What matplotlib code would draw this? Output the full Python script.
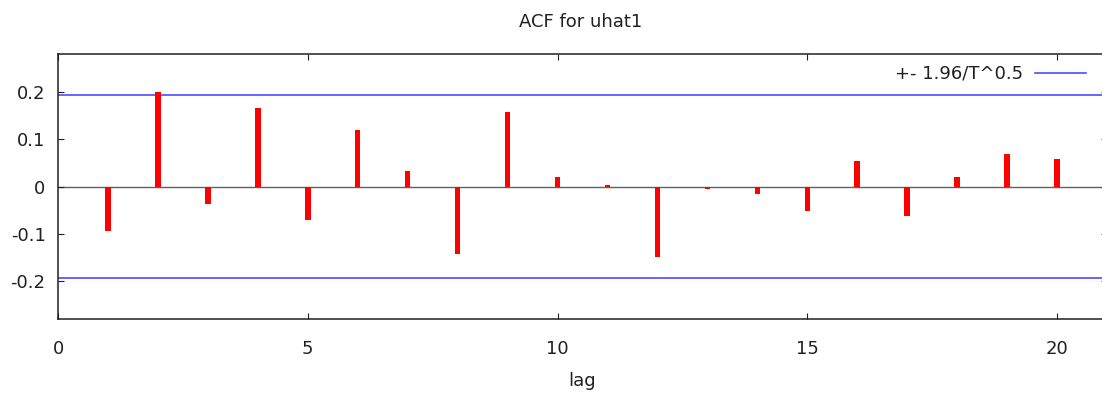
import matplotlib
matplotlib.use("Agg")
import matplotlib.pyplot as plt

lags = list(range(1, 21))
acf = [-0.095, 0.200, -0.038, 0.167, -0.072, 0.120, 0.032, -0.144, 0.158, 0.021,
       0.004, -0.149, -0.006, -0.015, -0.052, 0.055, -0.062, 0.021, 0.069, 0.059]
band = 0.193
yticks = [-0.2, -0.1, 0, 0.1, 0.2]
ytick_labels = ["-0.2", "-0.1", "0", "0.1", "0.2"]
xticks = [0, 5, 10, 15, 20]

plt.rcParams["font.family"] = "DejaVu Sans"
plt.rcParams["font.size"] = 13

fig = plt.figure(figsize=(11.02, 3.93), dpi=100)
ax = fig.add_axes([58 / 1102, 74 / 393, 1049 / 1102, 265 / 393])

ax.axhline(0, color="#606060", lw=1.0, zorder=1)
ax.axhline(band, color="#3c3cff", lw=1.1, zorder=2, label="+- 1.96/T^0.5")
ax.axhline(-band, color="#3c3cff", lw=1.1, zorder=2)
ax.bar(lags, acf, width=0.11, color="#ff0000", zorder=3)

ax.set_xlim(0, 21)
ax.set_ylim(-0.281, 0.281)
ax.set_xticks(xticks)
ax.set_yticks(yticks)
ax.set_yticklabels(ytick_labels)
ax.tick_params(direction="in", length=4.5, width=0.8, top=True, right=True,
               color="#202020", labelcolor="#202020")
ax.tick_params(axis="x", pad=15)
ax.tick_params(axis="y", pad=9)
for s in ax.spines.values():
    s.set_linewidth(1.1)
    s.set_color("#202020")

ax.set_xlabel("lag", color="#202020", labelpad=10)
fig.text(581 / 1102, 1 - 22 / 393, "ACF for uhat1", ha="center", va="center",
         color="#202020")

ax.legend(loc="center right", bbox_to_anchor=(1086 / 1102, 1 - 74 / 393),
          bbox_transform=fig.transFigure, frameon=False, markerfirst=False,
          handlelength=2.8, handletextpad=0.7, borderpad=0, borderaxespad=0,
          labelcolor="#202020")

fig.savefig("out.png", dpi=100)
